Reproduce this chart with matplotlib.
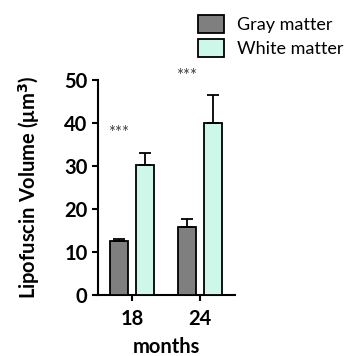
import matplotlib
matplotlib.use("Agg")
import matplotlib.pyplot as plt
import numpy as np

groups = ["18", "24"]
gray_vals = [12.6, 15.7]
gray_err = [0.4, 1.9]
white_vals = [30.2, 40.1]
white_err = [2.8, 6.3]
series_names = ["Gray matter", "White matter"]
sig_labels = ["***", "***"]
sig_y = [37.7, 51.0]

plt.rcParams['font.family'] = ['Lato', 'DejaVu Sans']

fig = plt.figure(figsize=(3.46, 3.56), dpi=100)
ax = fig.add_axes([98/346, (356-295)/356, (235-98)/346, (295-80)/356])

x = np.arange(len(groups))
w = 0.26
off = 0.19
ax.bar(x - off, gray_vals, w, color="#7f7f7f", edgecolor="black", linewidth=1.3,
       yerr=[np.zeros(2), gray_err], error_kw=dict(ecolor="black", elinewidth=1.3, capsize=4, capthick=1.3),
       label=series_names[0], zorder=3)
ax.bar(x + off, white_vals, w, color="#cdf7e9", edgecolor="black", linewidth=1.3,
       yerr=[np.zeros(2), white_err], error_kw=dict(ecolor="black", elinewidth=1.3, capsize=4, capthick=1.3),
       label=series_names[1], zorder=3)

for xi, s, yy in zip(x, sig_labels, sig_y):
    ax.text(xi - 0.2, yy, s, ha="center", va="center", fontsize=12, color="#404040")

ax.set_xlim(-0.5, 1.515)
ax.set_ylim(0, 50)
ax.set_yticks([0, 10, 20, 30, 40, 50])
ax.set_xticks(x)
ax.set_xticklabels(groups)
for sp in ["top", "right"]:
    ax.spines[sp].set_visible(False)
for sp in ["left", "bottom"]:
    ax.spines[sp].set_linewidth(1.5)
ax.tick_params(axis="both", direction="out", length=4, width=1.5, labelsize=14.5)
ax.tick_params(axis="x", pad=6)
for lab in ax.get_xticklabels() + ax.get_yticklabels():
    lab.set_fontweight("bold")
ax.set_xlabel("months", fontsize=14.5, fontweight="bold", labelpad=6)
ax.set_ylabel("Lipofuscin Volume (μm$^\\mathbf{3}$)", fontsize=14.5, fontweight="bold", labelpad=16)

fig.legend(loc="upper left", bbox_to_anchor=(191/346, 1 - 8/356), frameon=False,
           fontsize=13, handlelength=1.45, handleheight=1.1, handletextpad=0.7,
           labelspacing=0.35, borderaxespad=0)

fig.savefig("out.png", dpi=100)
